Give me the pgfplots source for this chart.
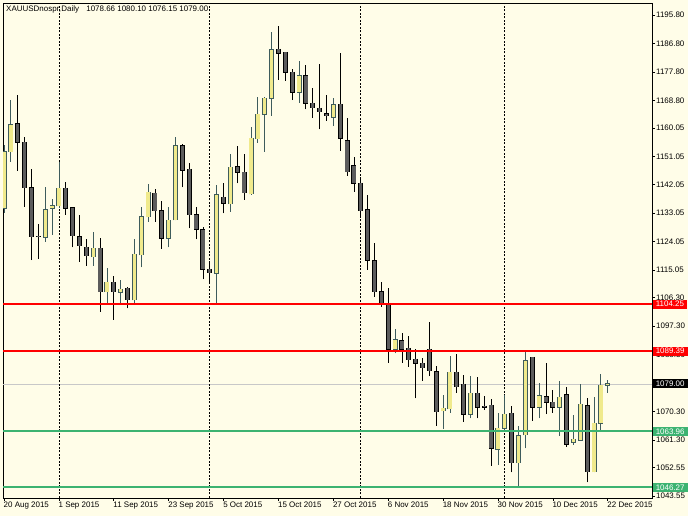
\documentclass[border=0pt]{standalone}
\usepackage{pgfplots}
\pgfplotsset{compat=1.18}
\usepackage{fontspec}
\setmainfont{Liberation Sans}

\definecolor{bg}{RGB}{255,253,232}
\definecolor{bullfill}{RGB}{240,234,140}
\definecolor{bullline}{RGB}{62,92,92}
\definecolor{bearfill}{RGB}{92,92,92}
\definecolor{mtgreen}{RGB}{60,179,113}
\definecolor{bidgray}{RGB}{200,200,200}

% candle: style, index, open, high, low, close
\newcommand{\candle}[6]{%
  \addplot[#1wick] coordinates {(#2,#5) (#2,#4)};
  \addplot[#1edge] coordinates {(#2,#3) (#2,#6)};
  \addplot[#1body] coordinates {(#2,#3) (#2,#6)};
}

\begin{document}
\begin{tikzpicture}
\useasboundingbox (0,0) rectangle (688bp,516bp);
\fill[bg] (0,0) rectangle (688bp,516bp);
\begin{axis}[
  at={(3bp,18bp)}, anchor=south west, scale only axis,
  width=649bp, height=495bp,
  xmin=-0.15, xmax=94.45, ymin=1042.90, ymax=1199.60,
  axis line style={black, line width=0.8bp},
  xtick={0,8,...,88},
  xticklabels={20 Aug 2015,1 Sep 2015,11 Sep 2015,23 Sep 2015,5 Oct 2015,15 Oct 2015,27 Oct 2015,6 Nov 2015,18 Nov 2015,30 Nov 2015,10 Dec 2015,22 Dec 2015},
  ytick={1195.80,1186.80,1177.80,1168.80,1160.05,1151.05,1142.05,1133.05,1124.05,1115.05,1106.30,1097.30,1088.30,1079.30,1070.30,1061.30,1052.55,1043.55},
  yticklabels={1195.80,1186.80,1177.80,1168.80,1160.05,1151.05,1142.05,1133.05,1124.05,1115.05,1106.30,1097.30,1088.30,1079.30,1070.30,1061.30,1052.55,1043.55},
  xtick pos=lower, ytick pos=upper, yticklabel pos=upper,
  tick align=outside, major tick length=3bp,
  tick style={black, line width=0.6bp},
  xticklabel style={anchor=north west, font=\fontsize{8}{9.6}\selectfont, xshift=-1.5bp, inner sep=1bp},
  yticklabel style={anchor=west, font=\fontsize{8}{9.6}\selectfont, inner sep=1bp},
  bullwick/.style={draw=bullline, line width=0.8bp},
  bulledge/.style={draw=bullline, line width=5.0bp, line cap=butt, shorten <=-0.5bp, shorten >=-0.5bp},
  bullbody/.style={draw=bullfill, line width=3.3bp, line cap=butt},
  bearwick/.style={draw=black, line width=0.8bp},
  bearedge/.style={draw=black, line width=5.0bp, line cap=butt, shorten <=-0.5bp, shorten >=-0.5bp},
  bearbody/.style={draw=bearfill, line width=3.3bp, line cap=butt},
]
\addplot[draw=bidgray, line width=0.8bp] coordinates {(-0.15,1079.00) (94.45,1079.00)};
\addplot[black, line width=0.7bp, dash pattern=on 2bp off 1.5bp] coordinates {(8,1042.9) (8,1199.6)};
\addplot[black, line width=0.7bp, dash pattern=on 2bp off 1.5bp] coordinates {(30,1042.9) (30,1199.6)};
\addplot[black, line width=0.7bp, dash pattern=on 2bp off 1.5bp] coordinates {(52,1042.9) (52,1199.6)};
\addplot[black, line width=0.7bp, dash pattern=on 2bp off 1.5bp] coordinates {(73,1042.9) (73,1199.6)};

\candle{bull}{0}{1134.61}{1154.65}{1133.22}{1152.53}
\candle{bull}{1}{1152.53}{1168.89}{1149.36}{1160.98}
\candle{bear}{2}{1161.30}{1170.48}{1146.51}{1155.50}
\candle{bear}{3}{1155.50}{1157.09}{1135.12}{1141.13}
\candle{bear}{4}{1141.13}{1147.05}{1118.24}{1125.62}
\candle{bear}{5}{1125.70}{1129.64}{1118.56}{1125.55}
\candle{bull}{6}{1125.43}{1141.45}{1124.04}{1134.07}
\candle{bull}{7}{1134.61}{1137.46}{1126.16}{1135.43}
\candle{bull}{8}{1135.34}{1149.36}{1134.80}{1140.94}
\candle{bear}{9}{1140.94}{1143.03}{1132.49}{1134.61}
\candle{bear}{10}{1134.71}{1134.90}{1122.27}{1125.94}
\candle{bear}{11}{1125.62}{1132.49}{1117.71}{1122.68}
\candle{bear}{12}{1122.27}{1124.80}{1116.44}{1119.61}
\candle{bull}{13}{1119.29}{1127.20}{1116.44}{1121.95}
\candle{bear}{14}{1121.95}{1125.11}{1101.88}{1108.21}
\candle{bull}{15}{1108.21}{1115.62}{1104.54}{1111.18}
\candle{bear}{16}{1111.18}{1113.27}{1099.25}{1108.21}
\candle{bull}{17}{1108.02}{1111.91}{1104.73}{1109.06}
\candle{bear}{18}{1109.29}{1109.79}{1102.95}{1105.58}
\candle{bull}{19}{1105.58}{1124.80}{1104.73}{1120.14}
\candle{bull}{20}{1119.83}{1135.12}{1115.93}{1131.95}
\candle{bull}{21}{1131.95}{1142.30}{1130.37}{1139.68}
\candle{bear}{22}{1139.36}{1140.62}{1130.37}{1133.85}
\candle{bear}{23}{1133.76}{1137.02}{1121.73}{1125.11}
\candle{bull}{24}{1125.11}{1135.12}{1122.27}{1130.81}
\candle{bull}{25}{1130.91}{1157.09}{1130.80}{1154.43}
\candle{bear}{26}{1154.43}{1154.87}{1141.26}{1146.73}
\candle{bear}{27}{1146.96}{1148.86}{1128.28}{1132.49}
\candle{bear}{28}{1132.49}{1135.12}{1124.80}{1127.96}
\candle{bear}{29}{1127.74}{1128.79}{1112.14}{1115.30}
\candle{bear}{30}{1115.30}{1117.71}{1111.06}{1114.22}
\candle{bull}{31}{1114.03}{1141.99}{1104.40}{1138.92}
\candle{bear}{32}{1138.09}{1142.52}{1133.03}{1136.19}
\candle{bull}{33}{1136.07}{1151.80}{1133.53}{1147.68}
\candle{bear}{34}{1147.78}{1154.33}{1142.52}{1146.01}
\candle{bear}{35}{1146.01}{1151.80}{1137.24}{1139.55}
\candle{bull}{36}{1139.14}{1160.25}{1138.90}{1156.77}
\candle{bull}{37}{1156.64}{1169.75}{1155.38}{1164.37}
\candle{bull}{38}{1164.37}{1169.80}{1152.53}{1169.43}
\candle{bull}{39}{1169.43}{1190.52}{1163.92}{1184.72}
\candle{bear}{40}{1184.94}{1192.32}{1175.23}{1183.68}
\candle{bear}{41}{1184.00}{1184.20}{1174.91}{1177.66}
\candle{bear}{42}{1177.66}{1178.71}{1168.89}{1171.33}
\candle{bull}{43}{1171.33}{1181.24}{1168.04}{1176.49}
\candle{bear}{44}{1176.49}{1179.97}{1165.95}{1167.85}
\candle{bear}{45}{1167.85}{1172.60}{1163.29}{1166.46}
\candle{bear}{46}{1166.27}{1180.20}{1159.62}{1165.19}
\candle{bear}{47}{1164.56}{1170.48}{1162.34}{1163.92}
\candle{bull}{48}{1163.42}{1169.43}{1160.66}{1167.31}
\candle{bear}{49}{1167.53}{1183.87}{1152.84}{1156.77}
\candle{bear}{50}{1156.01}{1163.29}{1144.93}{1146.20}
\candle{bear}{51}{1148.10}{1150.95}{1139.87}{1142.52}
\candle{bear}{52}{1142.52}{1144.61}{1131.95}{1133.85}
\candle{bear}{53}{1134.07}{1138.82}{1115.08}{1118.24}
\candle{bear}{54}{1118.02}{1123.53}{1106.63}{1108.27}
\candle{bear}{55}{1108.21}{1111.37}{1103.46}{1104.54}
\candle{bear}{56}{1104.54}{1109.38}{1085.73}{1089.98}
\candle{bull}{57}{1089.98}{1096.31}{1088.71}{1092.92}
\candle{bear}{58}{1092.70}{1095.04}{1085.73}{1089.98}
\candle{bear}{59}{1090.29}{1094.19}{1084.47}{1086.59}
\candle{bear}{60}{1086.90}{1089.98}{1074.46}{1085.54}
\candle{bear}{61}{1085.54}{1087.13}{1079.94}{1084.15}
\candle{bear}{62}{1089.98}{1098.71}{1081.52}{1083.11}
\candle{bear}{63}{1082.89}{1084.54}{1065.79}{1070.22}
\candle{bull}{64}{1070.54}{1075.51}{1064.75}{1071.30}
\candle{bull}{65}{1071.08}{1087.85}{1069.91}{1082.69}
\candle{bear}{66}{1082.69}{1088.49}{1076.24}{1078.14}
\candle{bear}{67}{1078.90}{1081.84}{1067.06}{1069.40}
\candle{bull}{68}{1069.40}{1081.52}{1068.13}{1076.05}
\candle{bear}{69}{1076.05}{1081.30}{1068.13}{1071.62}
\candle{bear}{70}{1071.90}{1075.29}{1070.76}{1071.70}
\candle{bear}{71}{1072.25}{1074.24}{1053.13}{1058.63}
\candle{bull}{72}{1058.41}{1069.91}{1053.35}{1064.97}
\candle{bull}{73}{1064.97}{1075.51}{1063.89}{1069.49}
\candle{bear}{74}{1069.72}{1072.03}{1051.04}{1054.08}
\candle{bull}{75}{1054.08}{1065.79}{1046.48}{1062.53}
\candle{bull}{76}{1062.85}{1089.22}{1058.63}{1086.37}
\candle{bear}{77}{1087.44}{1087.60}{1067.28}{1071.62}
\candle{bull}{78}{1071.62}{1079.40}{1068.13}{1075.19}
\candle{bear}{79}{1074.97}{1085.73}{1069.49}{1073.20}
\candle{bear}{80}{1073.20}{1077.09}{1069.91}{1071.62}
\candle{bull}{81}{1071.62}{1079.94}{1062.62}{1074.78}
\candle{bear}{82}{1075.51}{1078.14}{1059.14}{1059.90}
\candle{bull}{83}{1060.54}{1069.18}{1059.68}{1061.49}
\candle{bull}{84}{1061.26}{1078.90}{1061.00}{1072.57}
\candle{bear}{85}{1072.12}{1074.65}{1047.87}{1051.23}
\candle{bull}{86}{1051.23}{1074.78}{1051.00}{1066.55}
\candle{bull}{87}{1066.55}{1082.06}{1064.21}{1078.67}
\candle{bull}{88}{1078.66}{1080.10}{1076.15}{1079.00}

\addplot[draw=red, line width=1.7bp] coordinates {(-0.15,1104.25) (94.45,1104.25)};
\addplot[draw=red, line width=1.7bp] coordinates {(-0.15,1089.39) (94.45,1089.39)};
\addplot[fill=mtgreen, draw=none] coordinates {(-0.15,1063.64) (94.45,1063.64) (94.45,1064.30) (-0.15,1064.30)} -- cycle;
\addplot[fill=mtgreen, draw=none] coordinates {(-0.15,1045.97) (94.45,1045.97) (94.45,1046.57) (-0.15,1046.57)} -- cycle;

\coordinate (r1) at (axis cs:94.45,1104.25);
\coordinate (r2) at (axis cs:94.45,1089.39);
\coordinate (b1) at (axis cs:94.45,1079.00);
\coordinate (g1) at (axis cs:94.45,1063.96);
\coordinate (g2) at (axis cs:94.45,1046.27);
\end{axis}
\tikzset{pbox/.style={anchor=west, text=white, inner xsep=3bp, inner ysep=1.2bp, minimum height=9bp, font=\fontsize{8}{9.6}\selectfont}}
\node[pbox, fill=red] at ([xshift=0.6bp]r1) {1104.25};
\node[pbox, fill=red] at ([xshift=0.6bp]r2) {1089.39};
\node[pbox, fill=black] at ([xshift=0.6bp]b1) {1079.00};
\node[pbox, fill=mtgreen] at ([xshift=0.6bp]g1) {1063.96};
\node[pbox, fill=mtgreen] at ([xshift=0.6bp]g2) {1046.27};
\node[anchor=base west, font=\fontsize{8}{9.6}\selectfont, inner sep=0pt] at (6bp,504.3bp) {XAUUSDnospr,\kern0.3bp Daily\hspace{5bp} 1078.66 1080.10 1076.15 1079.00};
\end{tikzpicture}
\end{document}
